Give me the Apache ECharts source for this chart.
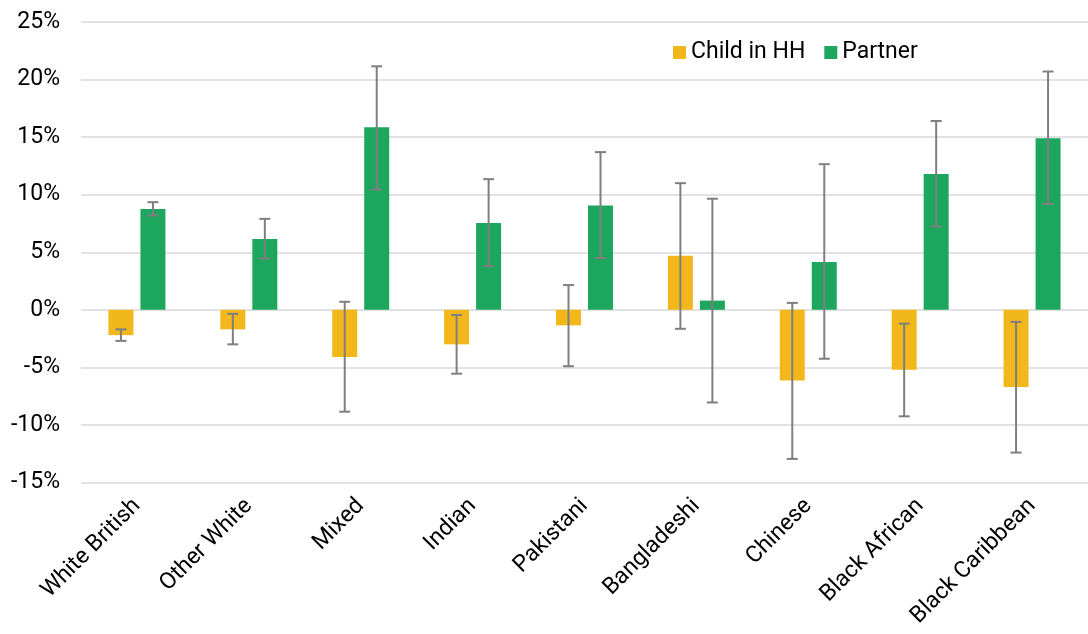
<!DOCTYPE html>
<html>
<head>
<meta charset="utf-8">
<script src="https://cdn.jsdelivr.net/npm/echarts@6/dist/echarts.min.js"></script>
<style>
html,body{margin:0;padding:0;background:#fff;}
#chart{width:1088px;height:634px;}
</style>
</head>
<body>
<div id="chart"></div>
<script>
var categories = ['White British','Other White','Mixed','Indian','Pakistani','Bangladeshi','Chinese','Black African','Black Caribbean'];
var childValues = [-2.2, -1.7, -4.1, -3.0, -1.35, 4.7, -6.15, -5.2, -6.7];
var childLow = [-2.7, -3.0, -8.85, -5.55, -4.9, -1.65, -12.95, -9.25, -12.4];
var childHigh = [-1.7, -0.35, 0.7, -0.45, 2.15, 11.0, 0.6, -1.2, -1.05];
var partnerValues = [8.75, 6.15, 15.85, 7.55, 9.05, 0.8, 4.15, 11.8, 14.9];
var partnerLow = [8.2, 4.45, 10.45, 3.8, 4.5, -8.05, -4.25, 7.25, 9.2];
var partnerHigh = [9.35, 7.9, 21.15, 11.35, 13.7, 9.65, 12.65, 16.4, 20.7];
var yTicks = [-15, -10, -5, 0, 5, 10, 15, 20, 25];

var BAR_W = 25, GAP = 7;
var FONT = 'Roboto';

function errData(low, high) {
  return categories.map(function (c, i) { return [i, low[i], high[i]]; });
}
function errRender(side) {
  return function (params, api) {
    var idx = api.value(0);
    var lo = api.coord([idx, api.value(1)]);
    var hi = api.coord([idx, api.value(2)]);
    var x = lo[0] + side * (BAR_W + GAP) / 2;
    var cap = 5.5;
    var style = { stroke: '#7f7f7f', lineWidth: 2 };
    return {
      type: 'group',
      children: [
        { type: 'line', shape: { x1: x, y1: hi[1], x2: x, y2: lo[1] }, style: style },
        { type: 'line', shape: { x1: x - cap, y1: hi[1], x2: x + cap, y2: hi[1] }, style: style },
        { type: 'line', shape: { x1: x - cap, y1: lo[1], x2: x + cap, y2: lo[1] }, style: style }
      ]
    };
  };
}

var chart = echarts.init(document.getElementById('chart'));
chart.setOption({
  animation: false,
  textStyle: { fontFamily: FONT },
  grid: { left: 81, right: 0, top: 22, bottom: 151.5, containLabel: false },
  legend: {
    left: 668, top: 36,
    icon: 'rect', itemWidth: 13, itemHeight: 13, itemGap: 19, itemTextGap: 6,
    textStyle: { fontFamily: FONT, fontSize: 23, color: '#000' },
    data: ['Child in HH', 'Partner']
  },
  xAxis: {
    type: 'category',
    data: categories,
    axisLine: { show: false },
    axisTick: { show: false },
    axisLabel: { rotate: 45, interval: 0, fontSize: 23, color: '#000', margin: 20, fontFamily: FONT }
  },
  yAxis: {
    type: 'value',
    min: yTicks[0], max: yTicks[yTicks.length - 1], interval: 5,
    axisLine: { show: false },
    axisTick: { show: false },
    splitLine: { lineStyle: { color: '#d9d9d9', width: 1.5 } },
    axisLabel: { fontSize: 23, color: '#000', margin: 21, fontFamily: FONT, formatter: function (v) { return v + '%'; } }
  },
  series: [
    { name: 'Child in HH', type: 'bar', data: childValues, barWidth: BAR_W, barGap: (GAP / BAR_W * 100) + '%', itemStyle: { color: '#F2B71A' } },
    { name: 'Partner', type: 'bar', data: partnerValues, barWidth: BAR_W, itemStyle: { color: '#1DA75E' } },
    { type: 'custom', renderItem: errRender(-1), data: errData(childLow, childHigh), encode: { x: 0, y: [1, 2] }, z: 10, silent: true },
    { type: 'custom', renderItem: errRender(1), data: errData(partnerLow, partnerHigh), encode: { x: 0, y: [1, 2] }, z: 10, silent: true }
  ]
});
</script>
</body>
</html>
